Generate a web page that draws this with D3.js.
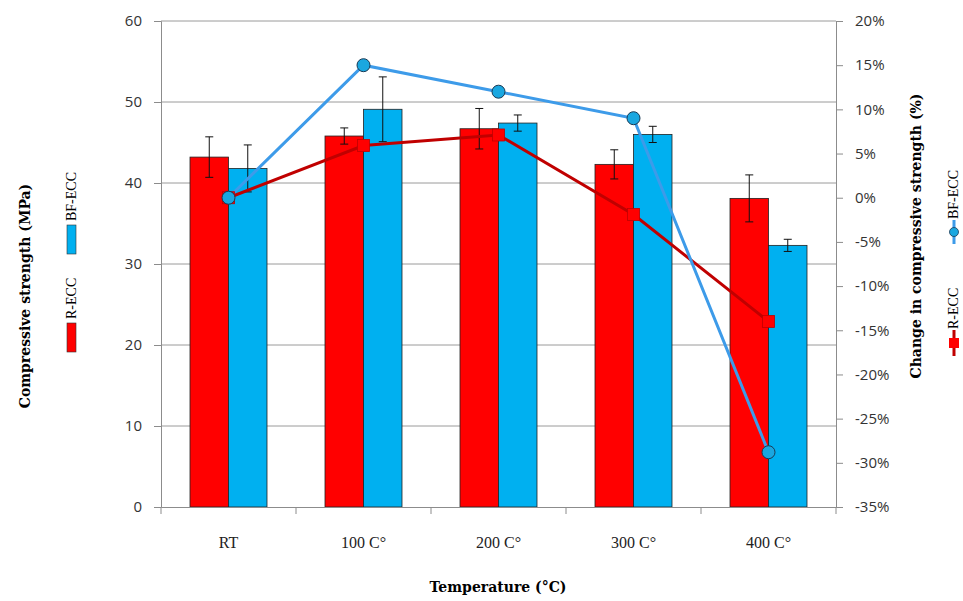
<!doctype html>
<html lang="en">
  <head>
    <meta charset="utf-8">
    <title>Compressive strength</title>
    <style>
      body { margin: 0; background: #fff; }
      .tick text { font-family: "Open Sans", "DejaVu Sans", sans-serif; }
      .title { font-family: "DejaVu Serif", "Liberation Serif", serif; font-weight: bold; font-size: 14px; fill: #000; }
      .cat text { font-family: "Liberation Serif", serif; font-size: 16px; fill: #222; }
    </style>
  </head>
  <body>
    <div id="chart"></div>
    <script src="https://d3js.org/d3.v7.min.js"></script>
    <script type="text/javascript">
      // data
      const categories = ["RT", "100 C°", "200 C°", "300 C°", "400 C°"];
      const rEcc      = [43.2, 45.8, 46.7, 42.3, 38.1];
      const rEccErr   = [2.5, 1.0, 2.5, 1.8, 2.9];
      const bfEcc     = [41.8, 49.1, 47.4, 46.0, 32.3];
      const bfEccErr  = [2.9, 4.0, 1.0, 1.0, 0.75];
      const rChange   = [0, 5.9, 7.1, -1.9, -14.0];
      const bfChange  = [0, 15.0, 12.0, 9.0, -28.8];
      const leftTicks  = [0, 10, 20, 30, 40, 50, 60];
      const rightTicks = [20, 15, 10, 5, 0, -5, -10, -15, -20, -25, -30, -35];

      const w = 963;
      const h = 601;
      const pLeft = 161, pRight = 836, pTop = 21, pBottom = 507;

      const red = "#ff0000", blue = "#00b0f0";
      const redLine = "#c00000", blueLine = "#3d9be9";

      const svg = d3.select("#chart")
                    .append("svg")
                    .attr("width", w)
                    .attr("height", h);

      const x = d3.scaleBand().domain(categories).range([pLeft, pRight]);
      const y = d3.scaleLinear().domain([0, 60]).range([pBottom, pTop]);
      const y2 = d3.scaleLinear().domain([-35, 20]).range([pBottom, pTop]);
      const barW = 38.5;

      // gridlines
      svg.append("g")
         .selectAll("line")
         .data(leftTicks.filter(d => d > 0))
         .enter()
         .append("line")
         .attr("x1", pLeft).attr("x2", pRight)
         .attr("y1", d => y(d)).attr("y2", d => y(d))
         .attr("stroke", "#9a9a9a")
         .attr("stroke-width", 1);

      // bars
      const groups = svg.append("g")
         .selectAll("g")
         .data(categories)
         .enter()
         .append("g");

      groups.append("rect")
         .attr("x", d => x(d) + x.bandwidth() / 2 - barW)
         .attr("y", (d, i) => y(rEcc[i]))
         .attr("width", barW)
         .attr("height", (d, i) => y(0) - y(rEcc[i]))
         .attr("fill", red)
         .attr("stroke", "#222")
         .attr("stroke-width", 0.8);

      groups.append("rect")
         .attr("x", d => x(d) + x.bandwidth() / 2)
         .attr("y", (d, i) => y(bfEcc[i]))
         .attr("width", barW)
         .attr("height", (d, i) => y(0) - y(bfEcc[i]))
         .attr("fill", blue)
         .attr("stroke", "#222")
         .attr("stroke-width", 0.8);

      // error bars
      const errBar = (g, cx, v, e) => {
        g.append("line").attr("x1", cx).attr("x2", cx)
          .attr("y1", y(v + e)).attr("y2", y(v - e));
        g.append("line").attr("x1", cx - 4).attr("x2", cx + 4)
          .attr("y1", y(v + e)).attr("y2", y(v + e));
        g.append("line").attr("x1", cx - 4).attr("x2", cx + 4)
          .attr("y1", y(v - e)).attr("y2", y(v - e));
      };
      const eg = svg.append("g").attr("stroke", "#111").attr("stroke-width", 1);
      categories.forEach((c, i) => {
        const mid = x(c) + x.bandwidth() / 2;
        errBar(eg, mid - barW / 2, rEcc[i], rEccErr[i]);
        errBar(eg, mid + barW / 2, bfEcc[i], bfEccErr[i]);
      });

      // axes
      const axisColor = "#8c8c8c";
      const yAxis = svg.append("g")
         .attr("transform", `translate(${pLeft},0)`)
         .call(d3.axisLeft(y).tickValues(leftTicks).tickSize(7).tickPadding(12));
      const y2Axis = svg.append("g")
         .attr("transform", `translate(${pRight},0)`)
         .call(d3.axisRight(y2).tickValues(rightTicks).tickSize(7).tickPadding(12)
               .tickFormat(d => d + "%"));
      const xAxis = svg.append("g")
         .attr("class", "cat")
         .attr("transform", `translate(0,${pBottom})`)
         .call(d3.axisBottom(x).tickSize(0).tickPadding(30));

      [yAxis, y2Axis].forEach(a => {
        a.selectAll("path, line").attr("stroke", axisColor);
        a.selectAll("text").attr("font-size", 15).attr("fill", "#333");
      });
      xAxis.select("path").attr("stroke", axisColor);
      xAxis.selectAll("text").attr("font-size", 16).attr("fill", "#222");

      // category boundary ticks
      svg.append("g")
         .selectAll("line")
         .data(d3.range(categories.length + 1))
         .enter()
         .append("line")
         .attr("x1", i => pLeft + i * x.step())
         .attr("x2", i => pLeft + i * x.step())
         .attr("y1", pBottom).attr("y2", pBottom + 7)
         .attr("stroke", axisColor);

      // lines
      const lineR = d3.line().x((d, i) => x(categories[i]) + x.bandwidth() / 2).y(d => y2(d));
      svg.append("path")
         .datum(rChange)
         .attr("d", lineR)
         .attr("fill", "none")
         .attr("stroke", redLine)
         .attr("stroke-width", 3);
      svg.append("path")
         .datum(bfChange)
         .attr("d", lineR)
         .attr("fill", "none")
         .attr("stroke", blueLine)
         .attr("stroke-width", 3);

      svg.selectAll(".mR")
         .data(rChange)
         .enter()
         .append("rect")
         .attr("class", "mR")
         .attr("x", (d, i) => x(categories[i]) + x.bandwidth() / 2 - 6)
         .attr("y", d => y2(d) - 6)
         .attr("width", 12).attr("height", 12)
         .attr("fill", red)
         .attr("stroke", "#c00000")
         .attr("stroke-width", 0.8);

      svg.selectAll(".mB")
         .data(bfChange)
         .enter()
         .append("circle")
         .attr("class", "mB")
         .attr("cx", (d, i) => x(categories[i]) + x.bandwidth() / 2)
         .attr("cy", d => y2(d))
         .attr("r", 6.5)
         .attr("fill", "#1aa7e0")
         .attr("stroke", "#1a3a55")
         .attr("stroke-width", 1);

      // axis titles
      svg.append("text")
         .attr("class", "title")
         .attr("transform", "translate(30,296) rotate(-90)")
         .attr("text-anchor", "middle")
         .text("Compressive strength (MPa)");
      svg.append("text")
         .attr("class", "title")
         .attr("transform", "translate(921,236) rotate(-90)")
         .attr("text-anchor", "middle")
         .text("Change in compressive strength  (%)");
      svg.append("text")
         .attr("class", "title")
         .attr("x", 498).attr("y", 592)
         .attr("text-anchor", "middle")
         .text("Temperature (°C)");

      // left legend (bars)
      const legFont = "'Liberation Serif', serif";
      svg.append("rect").attr("x", 67).attr("y", 323).attr("width", 9).attr("height", 29)
         .attr("fill", red).attr("stroke", "#333").attr("stroke-width", 0.6);
      svg.append("text").attr("transform", "translate(76,319) rotate(-90)")
         .attr("font-family", legFont).attr("font-size", 14).text("R-ECC");
      svg.append("rect").attr("x", 67).attr("y", 225).attr("width", 9).attr("height", 29)
         .attr("fill", blue).attr("stroke", "#333").attr("stroke-width", 0.6);
      svg.append("text").attr("transform", "translate(76,221) rotate(-90)")
         .attr("font-family", legFont).attr("font-size", 14).text("BF-ECC");

      // right legend (lines)
      const lx = 954;
      svg.append("line").attr("x1", lx).attr("x2", lx).attr("y1", 330).attr("y2", 356)
         .attr("stroke", redLine).attr("stroke-width", 3);
      svg.append("rect").attr("x", lx - 5).attr("y", 338).attr("width", 10).attr("height", 10)
         .attr("fill", red);
      svg.append("text").attr("transform", `translate(${lx + 4},329) rotate(-90)`)
         .attr("font-family", legFont).attr("font-size", 14).text("R-ECC");
      svg.append("line").attr("x1", lx).attr("x2", lx).attr("y1", 220).attr("y2", 244)
         .attr("stroke", blueLine).attr("stroke-width", 3);
      svg.append("circle").attr("cx", lx).attr("cy", 232).attr("r", 4.5)
         .attr("fill", "#1aa7e0").attr("stroke", "#1a3a55").attr("stroke-width", 0.8);
      svg.append("text").attr("transform", `translate(${lx + 4},219) rotate(-90)`)
         .attr("font-family", legFont).attr("font-size", 14).text("BF-ECC");
    </script>
  </body>
</html>
